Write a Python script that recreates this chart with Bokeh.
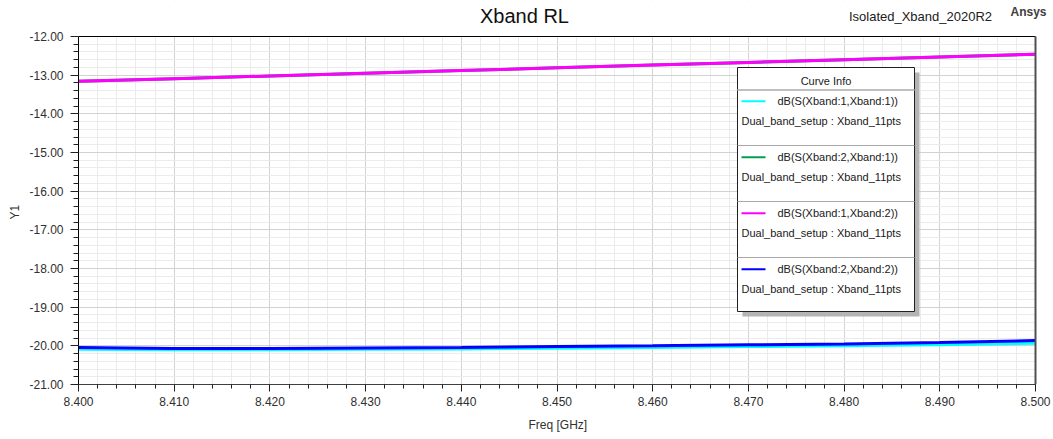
from bokeh.plotting import figure
from bokeh.models import FixedTicker, Label, Range1d, NumeralTickFormatter, Title
from bokeh.embed import file_html
from bokeh.resources import INLINE

# ---------------- data ----------------
freq = [8.40, 8.41, 8.42, 8.43, 8.44, 8.45, 8.46, 8.47, 8.48, 8.49, 8.50]
s11_db = [-20.09, -20.10, -20.10, -20.09, -20.08, -20.06, -20.04, -20.02, -20.00, -19.97, -19.93]
s21_db = [-13.16, -13.09, -13.02, -12.95, -12.88, -12.81, -12.74, -12.67, -12.60, -12.53, -12.46]
s12_db = [-13.16, -13.09, -13.02, -12.95, -12.88, -12.81, -12.74, -12.67, -12.60, -12.53, -12.46]
s22_db = [-20.045, -20.07, -20.07, -20.055, -20.04, -20.02, -20.00, -19.975, -19.95, -19.915, -19.865]

series_names = ["dB(S(Xband:1,Xband:1))", "dB(S(Xband:2,Xband:1))",
                "dB(S(Xband:1,Xband:2))", "dB(S(Xband:2,Xband:2))"]
series_setup = "Dual_band_setup : Xband_11pts"
series_colors = ["#00ffff", "#00a050", "#ff00ff", "#0000ff"]

x_ticks = [8.40, 8.41, 8.42, 8.43, 8.44, 8.45, 8.46, 8.47, 8.48, 8.49, 8.50]
y_ticks = [-21.0, -20.0, -19.0, -18.0, -17.0, -16.0, -15.0, -14.0, -13.0, -12.0]

title_text = "Xband RL"
design_text = "Isolated_Xband_2020R2"
brand_text = "Ansys"
x_label = "Freq [GHz]"
y_label = "Y1"
legend_title = "Curve Info"

# ---------------- geometry helpers (px -> data) ----------------
W, H = 1053, 439
FL, FR, FT, FB = 78, 1035, 36, 384      # visible plot box in the reference
XMIN, XMAX = x_ticks[0], x_ticks[-1]
YMIN, YMAX = y_ticks[0], y_ticks[-1]


def dx(px):
    return XMIN + (px - FL) / (FR - FL) * (XMAX - XMIN)


def dy(py):
    return YMAX - (py - FT) / (FB - FT) * (YMAX - YMIN)


# the Bokeh frame extends to the top and right edges of the canvas so that
# header texts can be drawn inside it; the extra area is masked in white
X_END = dx(W)
Y_END = dy(0)

FONT = "Liberation Sans"

p = figure(width=W, height=H, output_backend="svg", toolbar_location=None,
           x_range=Range1d(XMIN, X_END), y_range=Range1d(YMIN, Y_END),
           min_border_left=FL, min_border_right=0,
           min_border_top=0, min_border_bottom=H - FB)
p.background_fill_color = "white"
p.border_fill_color = "white"
p.outline_line_color = None

x_minor = [round(XMIN + i * 0.002, 4) for i in range(51)]
y_minor = [round(YMIN + i * 0.2, 3) for i in range(46)]
xt = FixedTicker(ticks=x_ticks, minor_ticks=x_minor)
yt = FixedTicker(ticks=y_ticks, minor_ticks=y_minor)
p.xaxis.ticker = xt
p.yaxis.ticker = yt
p.xgrid.ticker = xt
p.ygrid.ticker = yt
p.xaxis.formatter = NumeralTickFormatter(format="0.000")
p.yaxis.formatter = NumeralTickFormatter(format="0.00")
p.xaxis.bounds = (XMIN, XMAX)
p.yaxis.bounds = (YMIN, YMAX)

for g in (p.xgrid, p.ygrid):
    g.grid_line_color = "#d2d2d2"
    g.grid_line_width = 1
    g.minor_grid_line_color = "#ebebeb"
    g.minor_grid_line_width = 1

for ax in (p.xaxis, p.yaxis):
    ax.major_label_text_font = FONT
    ax.major_label_text_font_size = "12px"
    ax.major_label_text_color = "#303030"
    ax.major_tick_in = 0
    ax.minor_tick_in = 0
    ax.major_tick_line_color = "#202020"
    ax.minor_tick_line_color = "#202020"

p.yaxis.axis_line_color = "#000000"
p.xaxis.axis_line_color = "#404040"
p.yaxis.major_tick_out = 8
p.yaxis.minor_tick_out = 5
p.xaxis.major_tick_out = 7
p.xaxis.minor_tick_out = 4
p.yaxis.major_label_standoff = 7
p.xaxis.major_label_standoff = 5

# axis titles, placed over the visible plot box rather than the whole frame
p.add_layout(Title(text=y_label, align="left", offset=(FB - 219), standoff=10,
                   text_font=FONT, text_font_size="12px", text_font_style="normal",
                   text_color="#303030"), "left")
p.add_layout(Title(text=x_label, align="left", offset=(528 - FL), standoff=15,
                   text_font=FONT, text_font_size="12px", text_font_style="normal",
                   text_color="#303030"), "below")

# ---------------- mask outside the plot box ----------------
p.quad(left=[XMIN, XMAX], right=[X_END, X_END], bottom=[YMAX, YMIN], top=[Y_END, Y_END],
       fill_color="white", line_color=None)

# ---------------- curves ----------------
series = [s11_db, s21_db, s12_db, s22_db]
draw_order = [1, 0, 2, 3]
for i in draw_order:
    p.line(freq, series[i], line_color=series_colors[i], line_width=3)

# plot box borders (top and right)
p.segment(x0=[XMIN], x1=[XMAX], y0=[YMAX], y1=[YMAX], line_color="#000000", line_width=1)
p.segment(x0=[XMAX], x1=[XMAX], y0=[YMIN], y1=[YMAX], line_color="#505050", line_width=2)

# ---------------- "Curve Info" legend box ----------------
bx0, bx1, by0, by1 = 737, 914, 67, 311
p.quad(left=[dx(bx0 + 5)], right=[dx(bx1 + 5)], top=[dy(by0 + 5)], bottom=[dy(by1 + 5)],
       fill_color="#b4b4b4", line_color=None)
p.quad(left=[dx(bx0)], right=[dx(bx1)], top=[dy(by0)], bottom=[dy(by1)],
       fill_color="white", line_color="#202020", line_width=1)
p.segment(x0=[dx(bx0)], x1=[dx(bx1)], y0=[dy(89.5)], y1=[dy(89.5)],
          line_color="#c0c0c0", line_width=2)
sep_y = [145, 201, 257]
p.segment(x0=[dx(bx0)] * 3, x1=[dx(bx1)] * 3, y0=[dy(v) for v in sep_y],
          y1=[dy(v) for v in sep_y], line_color="#a8a8a8", line_width=1)

p.add_layout(Label(x=dx(825.5), y=dy(80), text=legend_title, text_font=FONT,
                   text_font_size="11px", text_color="#202020",
                   text_align="center", text_baseline="middle"))
for k in range(4):
    ly = 100.7 + 56 * k
    p.segment(x0=[dx(741)], x1=[dx(765)], y0=[dy(ly)], y1=[dy(ly)],
              line_color=series_colors[k], line_width=2)
    p.add_layout(Label(x=dx(777), y=dy(ly), text=series_names[k], text_font=FONT,
                       text_font_size="11px", text_color="#202020",
                       text_align="left", text_baseline="middle"))
    p.add_layout(Label(x=dx(741), y=dy(ly + 19.5), text=series_setup, text_font=FONT,
                       text_font_size="11px", text_color="#202020",
                       text_align="left", text_baseline="middle"))

# ---------------- header texts ----------------
p.add_layout(Label(x=dx(524), y=dy(15), text=title_text, text_font=FONT,
                   text_font_size="20px", text_color="#101010",
                   text_align="center", text_baseline="middle"))
p.add_layout(Label(x=dx(920), y=dy(16), text=design_text, text_font=FONT,
                   text_font_size="13px", text_color="#202020",
                   text_align="center", text_baseline="middle"))
p.add_layout(Label(x=dx(1028), y=dy(11), text=brand_text, text_font=FONT,
                   text_font_size="12px", text_font_style="bold", text_color="#404040",
                   text_align="center", text_baseline="middle"))

open("out.html", "w").write(file_html(p, INLINE))
